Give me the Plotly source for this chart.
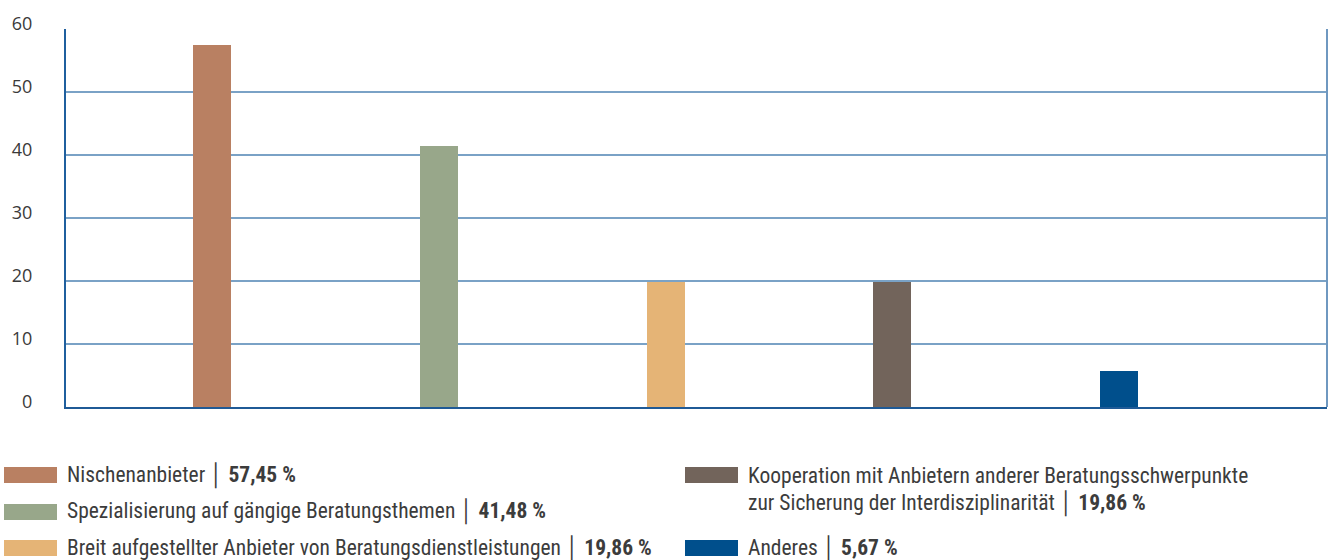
import plotly.graph_objects as go

# Survey results: positioning of consultancies (share of answers in %)
categories = [
    "Nischenanbieter",
    "Spezialisierung auf gängige Beratungsthemen",
    "Breit aufgestellter Anbieter von Beratungsdienstleistungen",
    "Kooperation mit Anbietern anderer Beratungsschwerpunkte zur Sicherung der Interdisziplinarität",
    "Anderes",
]
values = [57.45, 41.48, 19.86, 19.86, 5.67]
value_labels = ["57,45 %", "41,48 %", "19,86 %", "19,86 %", "5,67 %"]
colors = ["#b98062", "#98a78a", "#e5b476", "#72645b", "#004f8c"]
y_ticks = [0, 10, 20, 30, 40, 50, 60]

# legend text lines per category (the long one wraps onto two lines)
legend_lines = [
    ["Nischenanbieter"],
    ["Spezialisierung auf gängige Beratungsthemen"],
    ["Breit aufgestellter Anbieter von Beratungsdienstleistungen"],
    ["Kooperation mit Anbietern anderer Beratungsschwerpunkte",
     "zur Sicherung der Interdisziplinarität"],
    ["Anderes"],
]

W, H = 1329, 560
M_L, M_R, M_T, M_B = 66, 2, 29, 153
PLOT_W = W - M_L - M_R
PLOT_H = H - M_T - M_B
LEGEND_FONT = "Liberation Sans Narrow, Roboto Condensed, Arial Narrow, Roboto, sans-serif"
TEXT_COLOR = "#3c3c3c"

fig = go.Figure()
fig.add_trace(go.Bar(
    x=list(range(len(values))),
    y=values,
    marker=dict(color=colors, line=dict(width=0)),
    width=0.168,
    hoverinfo="skip",
    showlegend=False,
))

fig.update_layout(
    width=W, height=H,
    margin=dict(l=M_L, r=M_R, t=M_T, b=M_B),
    paper_bgcolor="white",
    plot_bgcolor="white",
    bargap=0,
    xaxis=dict(
        range=[-0.644, 4.917],
        showticklabels=False,
        showgrid=False,
        zeroline=False,
        showline=True,
        linecolor="#1f5a96",
        linewidth=2,
        ticks="",
        fixedrange=True,
    ),
    yaxis=dict(
        range=[0, 60],
        tickvals=y_ticks,
        ticktext=[str(v) for v in y_ticks],
        showgrid=True,
        gridcolor="#7aa2c6",
        gridwidth=2,
        zeroline=False,
        showline=True,
        linecolor="#1f5f9e",
        linewidth=2,
        ticks="",
        ticklabelstandoff=28,
        ticklabelshift=-5,
        tickfont=dict(family="Open Sans, sans-serif", size=18, color="#3a3a3a"),
        fixedrange=True,
    ),
)

# right border of the plot frame
fig.add_shape(type="line", xref="paper", yref="paper", x0=1, x1=1, y0=0, y1=1,
              line=dict(color="#6f98c0", width=2), layer="above")


# hand-built legend below the plot: pixel positions converted to paper units
def px_x(x):
    return (x - M_L) / PLOT_W


def px_y(y):
    return (M_T + PLOT_H - y) / PLOT_H


slots = [
    (4, 475), (4, 512), (4, 548),
    (685, 475), (685, 548),
]
for i, (sx, sy) in enumerate(slots):
    fig.add_shape(type="rect", xref="paper", yref="paper",
                  x0=px_x(sx), x1=px_x(sx + 53),
                  y0=px_y(sy + 8), y1=px_y(sy - 8),
                  fillcolor=colors[i], line=dict(width=0))
    lines = legend_lines[i]
    for j, line in enumerate(lines):
        text = line
        if j == len(lines) - 1:
            text = f"{line} │ <b>{value_labels[i]}</b>"
        fig.add_annotation(
            xref="paper", yref="paper",
            x=px_x(sx + 61), y=px_y(sy + 28 * j),
            xanchor="left", yanchor="middle",
            text=text, showarrow=False,
            font=dict(family=LEGEND_FONT, size=21.5, color=TEXT_COLOR),
        )

fig.write_html("out.html")
